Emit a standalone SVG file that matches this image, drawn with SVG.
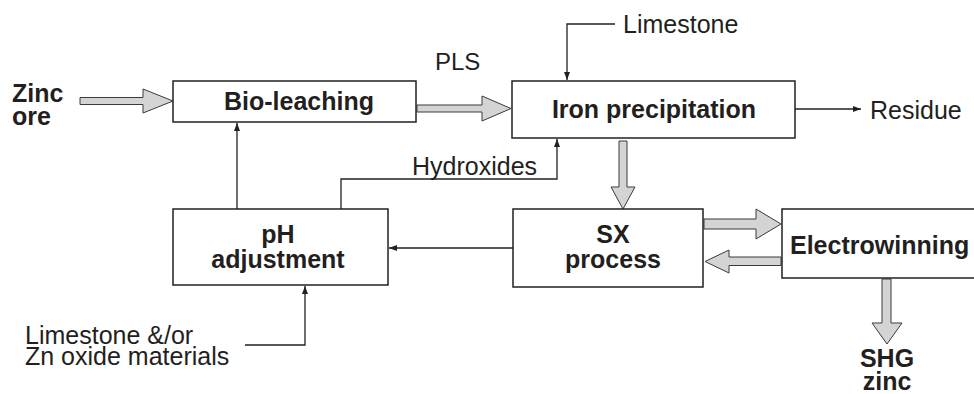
<svg xmlns="http://www.w3.org/2000/svg" width="974" height="394" viewBox="0 0 974 394">
<style>
.box{fill:#fff;stroke:#231f20;stroke-width:1.5}
.blk{fill:#d4d4d4;stroke:#3a3a3a;stroke-width:1}
.ln{fill:none;stroke:#231f20;stroke-width:1.3}
text{font-family:"Liberation Sans",Arial,sans-serif;fill:#231f20;font-size:25px}
.b{font-weight:bold}
.m{text-anchor:middle}
</style>
<defs>
<marker id="ah" markerUnits="userSpaceOnUse" markerWidth="9" markerHeight="7" refX="8" refY="3" orient="auto">
<path d="M0,0 L8,3 L0,6 z" fill="#231f20"/>
</marker>
</defs>
<rect width="974" height="394" fill="#fff"/>
<g id="connectors">
<polygon class="blk" points="80,97.5 143,97.5 143,89 173,101 143,113 143,104.5 80,104.5"/>
<polygon class="blk" points="417,105 482,105 482,96 511,108.5 482,121 482,112 417,112"/>
<polygon class="blk" points="619,141 627,141 627,187 635,187 623,209 611,187 619,187"/>
<polygon class="blk" points="704,219 756,219 756,209 781,224 756,239 756,229 704,229"/>
<polygon class="blk" points="781,257 729,257 729,250 705,261.5 729,273 729,265.5 781,265.5"/>
<polygon class="blk" points="882,279 891,279 891,323 902,323 887,344 872,323 882,323"/>
<path class="ln" d="M615,24 H567 V80" marker-end="url(#ah)"/>
<path class="ln" d="M795,109 H861" marker-end="url(#ah)"/>
<path class="ln" d="M341,209 V179 H557 V139" marker-end="url(#ah)"/>
<path class="ln" d="M237,209 V123" marker-end="url(#ah)"/>
<path class="ln" d="M513,248 H389" marker-end="url(#ah)"/>
<path class="ln" d="M245,345 H305 V286" marker-end="url(#ah)"/>
</g>
<g id="zinc-ore"><text class="b" x="12" y="102">Zinc<tspan x="12" y="125">ore</tspan></text></g>
<g id="bio-leaching"><rect class="box" x="173" y="81" width="243" height="41"/><text class="b m" x="299" y="110">Bio-leaching</text></g>
<g id="pls-label"><text x="435" y="70" style="font-size:24px">PLS</text></g>
<g id="iron-precipitation"><rect class="box" x="512" y="81" width="283" height="57"/><text class="b m" x="654" y="118">Iron precipitation</text></g>
<g id="limestone"><text x="623" y="33">Limestone</text></g>
<g id="residue"><text x="870" y="119">Residue</text></g>
<g id="hydroxides"><text x="412" y="175">Hydroxides</text></g>
<g id="ph-adjustment"><rect class="box" x="173" y="209" width="215" height="76"/><text class="b m" x="278" y="243">pH<tspan x="278" y="268">adjustment</tspan></text></g>
<g id="sx-process"><rect class="box" x="513" y="209" width="190" height="78"/><text class="b m" x="613" y="243">SX<tspan x="613" y="268">process</tspan></text></g>
<g id="electrowinning"><rect class="box" x="782" y="209" width="200" height="69"/><text class="b" x="790" y="254">Electrowinning</text></g>
<g id="shg-zinc"><text class="b m" x="887" y="367">SHG<tspan x="887" y="390">zinc</tspan></text></g>
<g id="limestone-zn"><text x="25" y="344">Limestone &amp;/or<tspan x="25" y="365">Zn oxide materials</tspan></text></g>
</svg>
